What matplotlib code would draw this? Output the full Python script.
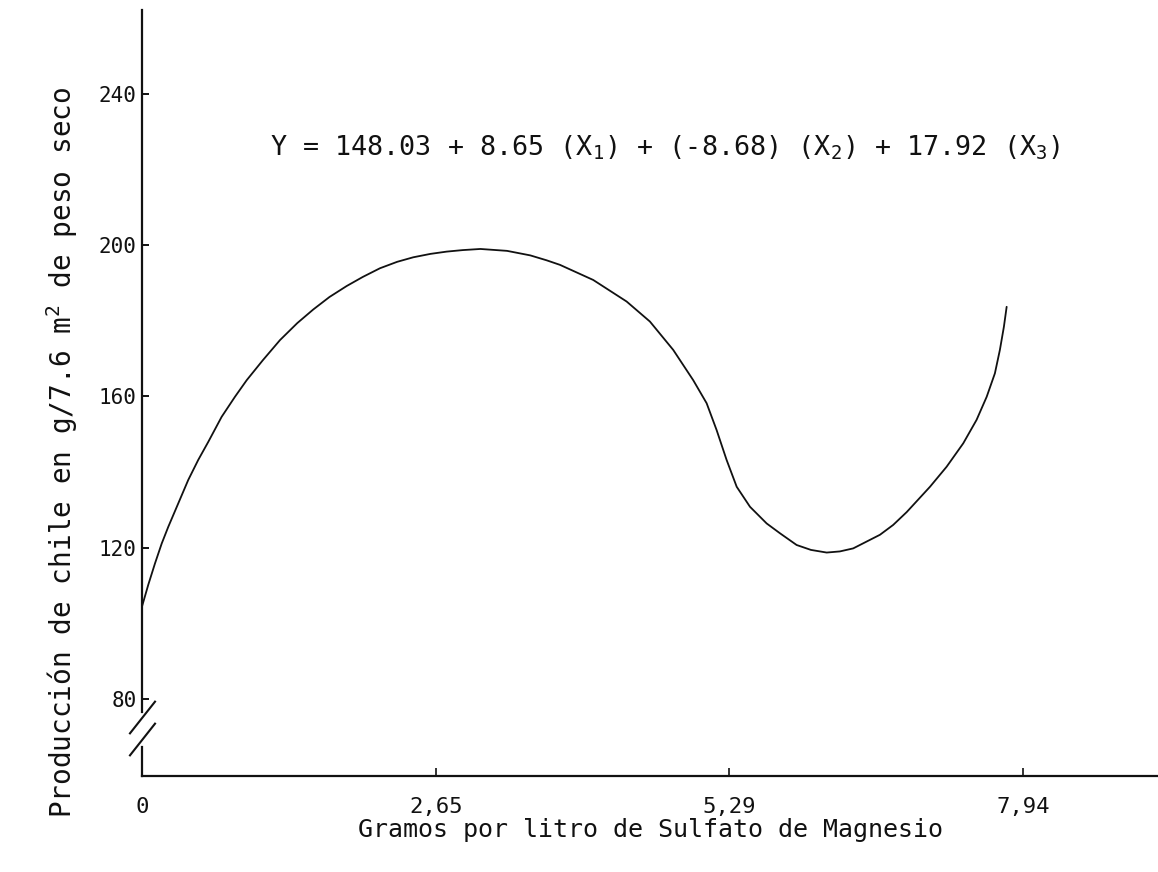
import matplotlib
matplotlib.use("Agg")
from matplotlib import pyplot as plt

plt.rcParams["font.family"] = ["DejaVu Sans Mono", "DejaVu Sans"]
plt.rcParams["mathtext.fontset"] = "custom"
plt.rcParams["mathtext.rm"] = "DejaVu Sans Mono"
plt.rcParams["mathtext.it"] = "DejaVu Sans Mono"

# Produccion de chile (g / 7.6 m2, peso seco) vs gramos por litro de sulfato de magnesio
sulfato_g_l = [0.0, 0.057, 0.117, 0.178, 0.237, 0.327, 0.417, 0.507, 0.598, 0.718,
               0.838, 0.944, 1.09, 1.244, 1.40, 1.544, 1.69, 1.845, 1.99, 2.145,
               2.30, 2.445, 2.60, 2.746, 2.89, 3.05, 3.29, 3.50, 3.647, 3.767,
               4.067, 4.368, 4.578, 4.788, 4.968, 5.089, 5.179, 5.269, 5.360, 5.480,
               5.630, 5.750, 5.900, 6.029, 6.171, 6.29, 6.410, 6.651, 6.77, 6.892,
               7.102, 7.252, 7.402, 7.522, 7.613, 7.687, 7.732, 7.768, 7.793]
produccion = [104.4, 110.2, 115.8, 121.1, 125.5, 131.7, 137.9, 143.2, 148.0, 154.6,
              159.9, 164.3, 169.6, 174.9, 179.4, 183.0, 186.3, 189.2, 191.6, 193.9,
              195.6, 196.8, 197.7, 198.3, 198.7, 199.0, 198.5, 197.3, 196.0, 194.8,
              190.8, 185.1, 179.8, 172.3, 164.3, 158.2, 151.1, 143.2, 136.1, 130.8,
              126.4, 123.8, 120.7, 119.4, 118.7, 119.0, 119.8, 123.4, 126.0, 129.4,
              136.1, 141.4, 147.6, 153.8, 159.9, 166.1, 172.3, 178.4, 183.7]

x_ticks = [0, 2.65, 5.29, 7.94]
x_tick_labels = ["0", "2,65", "5,29", "7,94"]
y_ticks = [80, 120, 160, 200, 240]

equation = "Y = 148.03 + 8.65 (X$_1$) + (-8.68) (X$_2$) + 17.92 (X$_3$)"
x_label = "Gramos por litro de Sulfato de Magnesio"
y_label = "Producción de chile en g/7.6 m$^2$ de peso seco"

ink = "#111111"
x_lim = (0, 9.157)
y_lim = (59.6, 262.2)
break_lo, break_hi = 67.3, 76.5

fig = plt.figure(figsize=(11.58, 8.72), dpi=100)
ax = fig.add_axes([0.1226, 0.1101, 0.8774, 0.8784])

ax.plot(sulfato_g_l, produccion, color=ink, lw=1.3, solid_capstyle="round",
        solid_joinstyle="round")

ax.set_xlim(x_lim)
ax.set_ylim(y_lim)
ax.set_xticks(x_ticks)
ax.set_xticklabels(x_tick_labels)
ax.set_yticks(y_ticks)

for side in ("top", "right"):
    ax.spines[side].set_visible(False)
for side in ("left", "bottom"):
    ax.spines[side].set_color(ink)
    ax.spines[side].set_linewidth(1.6)

# broken y axis: upper part as spine, short stub down to the x axis
ax.spines["left"].set_bounds(break_hi, y_lim[1])
ax.plot([0, 0], [y_lim[0], break_lo], color=ink, lw=1.6, clip_on=False)
for yb in (break_hi - 1.2, break_lo + 2.2):
    ax.plot([0], [yb], marker=[(-0.79, -1), (0.79, 1)], markersize=24,
            markeredgewidth=1.5, color=ink, clip_on=False, linestyle="none")

ax.tick_params(axis="y", direction="in", length=5, width=1.4, colors=ink,
               labelsize=15, pad=4)
ax.tick_params(axis="x", direction="in", length=6, width=1.2, colors=ink,
               labelsize=16, pad=15)

fig.text(270 / 1158, 1 - 155 / 872, equation, fontsize=19.3, color=ink,
         ha="left", va="baseline")
fig.text(650 / 1158, 1 - 830 / 872, x_label, fontsize=18, color=ink,
         ha="center", va="center")
fig.text(62 / 1158, 1 - 452 / 872, y_label, fontsize=20, color=ink,
         ha="center", va="center", rotation=90)

fig.savefig("out.png", dpi=100, facecolor="white")
